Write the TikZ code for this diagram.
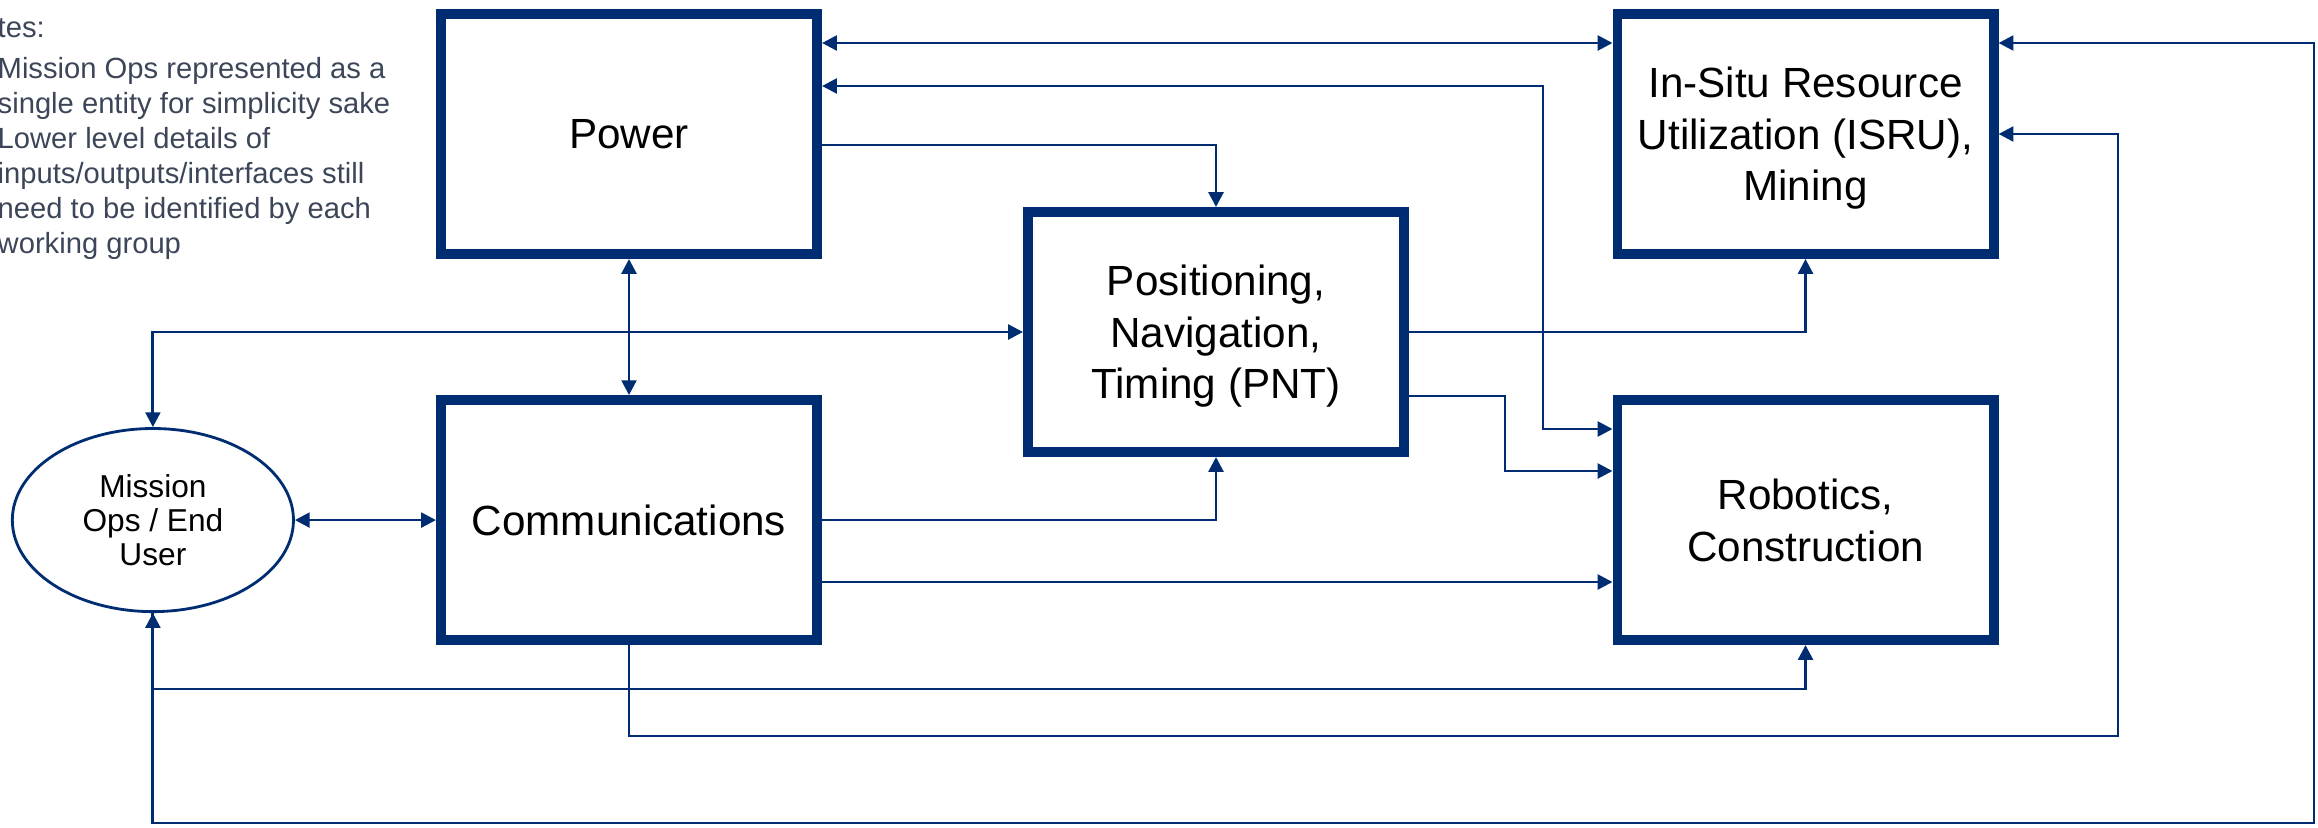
\documentclass[tikz,border=0pt]{standalone}
\usepackage{fontspec}
\setmainfont{Liberation Sans}
\usetikzlibrary{positioning,arrows.meta,shapes.geometric}
\definecolor{navy}{RGB}{0,45,114}
\definecolor{notegray}{RGB}{60,70,88}

\begin{document}
\begin{tikzpicture}[
    x=0.01cm, y=-0.01cm,
    every node/.style={align=center},
    block/.style={rectangle, draw=navy, line width=2.8pt, minimum width=3.76cm, minimum height=2.4cm, inner sep=2pt, text depth=0pt, font=\fontsize{12}{14.6}\selectfont},
    user/.style={ellipse, draw=navy, line width=0.8pt, minimum width=2.81cm, minimum height=1.83cm, inner sep=0pt, font=\fontsize{9}{9.7}\selectfont},
    arr/.style={-{Triangle[length=4.2pt,width=4.2pt]}, line width=0.8pt, navy},
    biarr/.style={{Triangle[length=4.2pt,width=4.2pt]}-{Triangle[length=4.2pt,width=4.2pt]}, line width=0.8pt, navy},
    note/.style={align=left, anchor=north west, inner sep=0pt, text=notegray, font=\fontsize{8.3}{10}\selectfont}
]
\useasboundingbox (0,0) rectangle (2318,827);

\node[note] (notes) at (-3,18) {tes:\\[1.5pt]
    Mission Ops represented as a\\
    single entity for simplicity sake\\
    Lower level details of\\
    inputs/outputs/interfaces still\\
    need to be identified by each\\
    working group};

\node[block] (power) at (629,134) {Power};
\node[block, below=1.36cm of power] (comms) {Communications};
\node[block, right=7.9cm of power]  (isru)  {In-Situ Resource\\Utilization (ISRU),\\Mining};
\node[block, below=1.36cm of isru]  (robo)  {Robotics,\\Construction};
\node[block] (pnt) at (1216,332) {Positioning,\\Navigation,\\Timing (PNT)};
\node[user, left=1.41cm of comms] (mission) {Mission\\Ops / End\\User};

\draw[biarr] (power.east |- 0,43) -- (isru.west |- 0,43);
\draw[biarr] (power.east |- 0,86) -| (1543,429) -- (robo.west |- 0,429);
\draw[arr] (power.east |- 0,145) -| (pnt.north);
\draw[biarr] (power.south) -- (comms.north);

\draw[biarr] (pnt.west) -| (mission.north);
\draw[biarr] (mission.east) -- (comms.west);

\draw[arr] (comms.east) -| (pnt.south);
\draw[arr] (comms.east |- 0,582) -- (robo.west |- 0,582);

\draw[arr] (pnt.east) -| (isru.south);
\draw[arr] (pnt.east |- 0,396) -| (1505,471) -- (robo.west |- 0,471);

\draw[arr] (mission.south) -- (mission.south |- 0,689) -| (robo.south);
\draw[arr] (comms.south) |- (2118,736) |- (isru.east);
\draw[biarr] (isru.east |- 0,43) -| (2314,823) -| (mission.south);

\end{tikzpicture}
\end{document}
